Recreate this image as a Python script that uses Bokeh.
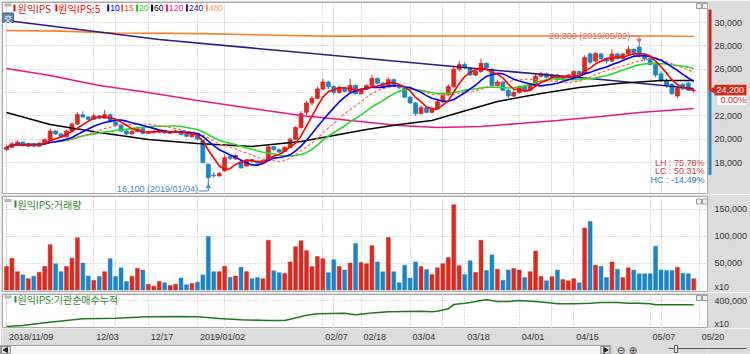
import numpy as np
import pandas as pd
from bokeh.plotting import figure
from bokeh.layouts import column
from bokeh.models import Range1d, FixedTicker, Grid, NumeralTickFormatter
from bokeh.core.properties import value
from bokeh.embed import file_html
from bokeh.resources import INLINE

# ---------------- data ----------------
name = "원익IPS"
tick_idx = [0, 16, 26, 35, 58, 65, 74, 84, 94, 104, 118, 127]
tick_labels = ["2018/11/09", "12/03", "12/17", "2019/01/02", "02/07", "02/18",
               "03/04", "03/18", "04/01", "04/15", "05/07", "05/20"]
high_date = "2019/05/02"
low_date = "2019/01/04"

opens = [19100, 19300, 19550, 19750, 19400, 19600, 19400, 19650, 19900, 20700,
         20450, 20200, 20700, 21300, 22100, 21900, 21700, 22000, 21800, 22100,
         21500, 21200, 20700, 20450, 20650, 20900, 20500, 20550, 20600, 20750,
         20500, 20600, 20700, 20400, 20200, 20400, 19900, 17850, 16900, 16850,
         17300, 18500, 18300, 18050, 17700, 18250, 18100, 17950, 18200, 19350,
         19100, 18950, 19300, 20000, 21000, 22300, 23100, 23500, 24300, 24900,
         24500, 24000, 24400, 24100, 24600, 23900, 24300, 24600, 25200, 24800,
         24500, 25100, 24600, 24400, 23600, 23100, 22200, 22700, 22300, 22600,
         23200, 23800, 24500, 26000, 26400, 26100, 25500, 25800, 26500, 26000,
         24600, 24900, 24200, 23700, 24000, 24500, 24200, 24600, 25400, 25600,
         25300, 25500, 25100, 25300, 25500, 25800, 25600, 27300, 26700, 27300,
         26900, 26700, 27300, 26900, 27300, 27700, 27900, 27200, 26900, 26400,
         25600, 25000, 24700, 23700, 24700, 24800, 24150]
highs = [19450, 19750, 19900, 19800, 19700, 19650, 19750, 20050, 20900, 20800,
         20500, 20800, 21400, 22300, 22400, 22000, 22200, 22100, 22500, 22200,
         21600, 21250, 20800, 20800, 21100, 20950, 20700, 20750, 20850, 20800,
         20700, 20800, 20750, 20450, 20500, 20450, 19950, 17900, 17150, 17200,
         18700, 18700, 18700, 18300, 18300, 18300, 18150, 18250, 19500, 19450,
         19200, 19400, 20100, 21100, 22400, 23300, 23700, 24500, 25200, 25000,
         24600, 24600, 24500, 25200, 24700, 24400, 24700, 25500, 25300, 24900,
         25300, 25200, 24700, 24500, 23700, 23200, 22900, 22800, 22800, 23400,
         24000, 24700, 26300, 26700, 26600, 26200, 26000, 26900, 26600, 26100,
         25100, 25000, 24300, 24200, 24600, 24600, 24700, 25600, 25800, 25700,
         25600, 25600, 25400, 25600, 25900, 25900, 27200, 27450, 27450, 27400,
         27000, 27700, 27400, 27400, 28000, 27800, 28300, 27400, 27000, 26500,
         25800, 25200, 24800, 24500, 24800, 24900, 24300]
lows = [19000, 19250, 19450, 19350, 19300, 19300, 19350, 19600, 19850, 20350,
        20100, 20150, 20600, 21200, 21800, 21600, 21650, 21700, 21750, 21400,
        21100, 20600, 20350, 20400, 20600, 20400, 20450, 20500, 20550, 20450,
        20450, 20550, 20300, 20150, 20150, 19900, 17900, 16100, 16700, 16800,
        17200, 18200, 18250, 17450, 17650, 18000, 17850, 17900, 18150, 19000,
        18800, 18900, 19250, 19950, 20900, 22100, 22900, 23400, 24200, 24300,
        23800, 23900, 24000, 24000, 23800, 23800, 24200, 24500, 24700, 24400,
        24400, 24500, 24300, 23500, 23000, 22000, 22100, 22200, 22200, 22500,
        23100, 23700, 24400, 25800, 26000, 25400, 25400, 25700, 26000, 24500,
        24500, 24100, 23500, 23600, 23900, 24100, 24100, 24500, 25300, 25200,
        25200, 25000, 25000, 25200, 25400, 25400, 25500, 26400, 26600, 26800,
        26500, 26600, 26800, 26800, 27200, 27200, 27000, 26700, 26300, 25300,
        24900, 24400, 23800, 23500, 24200, 24100, 24000]
closes = [19300, 19600, 19750, 19450, 19600, 19400, 19650, 19950, 20700, 20450,
          20200, 20700, 21300, 22100, 21900, 21700, 22000, 21800, 22100, 21500,
          21200, 20700, 20450, 20650, 20900, 20500, 20600, 20650, 20750, 20550,
          20600, 20700, 20400, 20250, 20400, 20000, 18000, 16700, 16850, 17050,
          18400, 18350, 18600, 17550, 18200, 18100, 17950, 18150, 19350, 19100,
          18900, 19300, 20000, 21000, 22200, 23100, 23500, 24300, 24900, 24500,
          24000, 24400, 24100, 24600, 23900, 24300, 24600, 25200, 24800, 24500,
          25100, 24600, 24400, 23600, 23100, 22200, 22700, 22300, 22600, 23200,
          23800, 24500, 26000, 26400, 26100, 25500, 25800, 26500, 26100, 24600,
          24900, 24200, 23700, 24000, 24500, 24200, 24600, 25400, 25600, 25300,
          25500, 25100, 25300, 25500, 25800, 25550, 27000, 26600, 27350, 26900,
          26700, 27300, 26900, 27300, 27700, 27400, 27200, 26900, 26400, 25500,
          25000, 24600, 23900, 24400, 24300, 24200, 24200]
volume = [43500, 59000, 34000, 28000, 21000, 25600, 33000, 44000, 84000, 48500,
          34000, 43500, 59000, 96700, 50000, 26000, 17600, 25000, 34000, 58000,
          25000, 41000, 15700, 25600, 40000, 37000, 10800, 7000, 15700, 13300,
          8300, 10800, 22000, 9600, 12000, 14500, 28000, 99000, 34000, 34000,
          44000, 23700, 26000, 42000, 34000, 21000, 23000, 20700, 92000, 35500,
          32000, 30600, 52000, 80000, 91000, 73000, 43500, 62000, 58000, 32000,
          56000, 43500, 37000, 50000, 86000, 51000, 48500, 82000, 52000, 33700,
          97000, 33700, 13300, 46000, 22000, 52000, 43500, 38000, 28700, 41000,
          48500, 60000, 158000, 44800, 28700, 54000, 32400, 92000, 36000, 65000,
          38600, 18000, 37000, 40000, 37000, 23000, 34000, 72000, 25000, 17000,
          25000, 37000, 19400, 17000, 20700, 13300, 115000, 127000, 46000, 43500,
          23000, 52000, 38600, 23000, 41000, 37000, 30000, 30000, 30000, 81000,
          37000, 36000, 36000, 42000, 31000, 30000, 21000]

# long moving averages (index, value)
ma60_idx = [0, 8, 17, 26, 35, 45, 54, 59, 66, 72, 78, 83, 90, 98, 105, 112, 120, 126]
ma60_val = [22290, 21260, 20570, 19970, 19630, 19370, 19800, 20230, 20830, 21260,
            21600, 22290, 23230, 23910, 24430, 24770, 25030, 25030]
ma120_idx = [0, 8, 17, 26, 35, 45, 54, 63, 72, 79, 87, 94, 101, 109, 116, 126]
ma120_val = [26060, 25460, 24600, 24000, 23310, 22630, 22030, 21600, 21170, 21000,
             21090, 21340, 21600, 21940, 22290, 22630]
ma240_idx = [0, 28, 54, 72, 90, 109, 126]
ma240_val = [30170, 28540, 27430, 26660, 25890, 25110, 24340]
ma480_idx = [0, 10, 20, 36, 52, 58, 90, 121, 126]
ma480_val = [29310, 29260, 29100, 29050, 28890, 28830, 28840, 28840, 28800]

# institutional cumulative net buying (index, value)
cum_idx = [0, 3, 7, 11, 14, 20, 26, 32, 35, 39, 43, 48, 51, 52, 55, 57, 62, 64, 67, 70,
           76, 78, 79, 81, 82, 84, 85, 87, 88, 90, 92, 94, 97, 99, 101, 104, 107, 109,
           112, 114, 116, 118, 119, 126]
cum_val = [140000, 150000, 177000, 200000, 217000, 223000, 237000, 240000, 237000, 220000,
           207000, 200000, 200000, 213000, 253000, 267000, 273000, 257000, 275000, 287000,
           293000, 287000, 293000, 317000, 360000, 373000, 380000, 400000, 407000, 390000,
           390000, 400000, 390000, 380000, 367000, 367000, 373000, 380000, 380000, 373000,
           373000, 367000, 357000, 357000]

# ---------------- layout helpers ----------------
W = 750
FL, FR = 2, 41
S = 5.47          # px per trading day
X0 = 6            # px of first candle
x_start = -(X0 - FL) / S
x_end = x_start + (W - FL - FR) / S
xr = Range1d(x_start, x_end)


def xp(px):
    return x_start + (px - FL) / S


RED = "#dc2a20"
BLUE = "#1985c8"
BG = "#dcdcdc"
GRID = "#bcbcbc"
KF = value("Noto Sans CJK KR")
NFv = value("Liberation Sans")
NF = "Liberation Sans"


def make(h, top, bottom, yr, yticks, ygrid, overrides=None):
    p = figure(width=W, height=h, x_range=xr, y_range=yr, output_backend="svg",
               toolbar_location=None, x_axis_location=None, y_axis_location="right",
               min_border_left=FL, min_border_right=FR, min_border_top=top,
               min_border_bottom=bottom, border_fill_color=BG,
               background_fill_color="white", outline_line_color="#a8a8a8")
    ax = p.yaxis[0]
    ax.ticker = FixedTicker(ticks=yticks)
    ax.formatter = NumeralTickFormatter(format="0,0")
    if overrides:
        ax.major_label_overrides = overrides
    ax.axis_line_color = None
    ax.major_tick_line_color = None
    ax.minor_tick_line_color = None
    ax.major_tick_out = 0
    ax.major_label_standoff = 7
    ax.major_label_text_font = NF
    ax.major_label_text_font_size = "9px"
    ax.major_label_text_color = "#333333"
    p.ygrid.ticker = FixedTicker(ticks=ygrid)
    p.ygrid.grid_line_color = GRID
    p.ygrid.grid_line_dash = "1 2"
    p.add_layout(Grid(dimension=0, ticker=FixedTicker(ticks=tick_idx),
                      grid_line_color=GRID, grid_line_dash="1 2"))
    return p


def panel_icons(p, yconv, py_icon):
    p.quad(left=xp(4), right=xp(11), top=yconv(py_icon), bottom=yconv(py_icon + 3),
           fill_color="#b4b4b4", line_color=None)
    for bx in (698, 704):
        p.quad(left=xp(bx), right=xp(bx + 5), top=yconv(py_icon), bottom=yconv(py_icon + 5),
               fill_color="#eeeeee", line_color="#9a9a9a", line_width=1)


idx = np.arange(len(closes))
o = np.array(opens, float)
c = np.array(closes, float)
hi = np.array(highs, float)
lo = np.array(lows, float)
colors = [RED if cc >= oo else BLUE for oo, cc in zip(o, c)]

# ---------------- price panel ----------------
PPU = 12000 / 140.0


def pv(py):
    return 30000 - (py - 22) * PPU


p1 = make(194, 2, 1, Range1d(pv(193), pv(2)),
          [18000, 20000, 22000, 26000, 28000, 30000],
          [18000, 20000, 22000, 24000, 26000, 28000, 30000])

p1.segment(idx, hi, idx, lo, color=colors, line_width=1)
p1.vbar(x=idx, width=0.72, top=np.maximum(o, c), bottom=np.minimum(o, c),
        fill_color=colors, line_color=colors, line_width=0.8)

cs = pd.Series(c)
ma = {n: cs.rolling(n, min_periods=1).mean().values for n in (5, 10, 15, 20)}

p1.line(ma480_idx, ma480_val, color="#ff7f27", line_width=1.6)
p1.line(ma240_idx, ma240_val, color="#2e1a87", line_width=1.6)
p1.line(ma120_idx, ma120_val, color="#f0148c", line_width=1.6)
p1.line(ma60_idx, ma60_val, color="#000000", line_width=1.6)
p1.line(idx, ma[20], color="#22dd22", line_width=1.6)
p1.line(idx, ma[15], color="#ff6a50", line_width=1.2, line_dash="3 2")
p1.line(idx, ma[10], color="#0000ff", line_width=1.6)
p1.line(idx, ma[5], color="#ff0000", line_width=1.6)

# legend row
leg = [(name, "#c81414", 13, 17, KF, "10px"), (name + ":5", "#ff0000", 55, 58, KF, "10px"),
       ("10", "#0000ff", 107, 110, NFv, "8.5px"), ("15", "#ff5a28", 121, 124, NFv, "8.5px"),
       ("20", "#10d010", 136, 139, NFv, "8.5px"), ("60", "#000000", 151, 154, NFv, "8.5px"),
       ("120", "#ff1493", 166, 169, NFv, "8.5px"), ("240", "#2e1a87", 186, 189, NFv, "8.5px"),
       ("480", "#ff9a6a", 206, 209, NFv, "8.5px")]
for txt, col, mx, tx, fnt, fs in leg:
    p1.quad(left=xp(mx), right=xp(mx + 2), top=pv(4), bottom=pv(11), fill_color=col, line_color=None)
    p1.text(x=[xp(tx)], y=[pv(7.5)], text=[txt], text_font=fnt, text_font_size=fs,
            text_color=col, text_baseline="middle", text_align="left")
panel_icons(p1, pv, 3)
p1.quad(left=xp(2), right=xp(13), top=pv(12.5), bottom=pv(22), fill_color="#5d83ad", line_color="#3e628a")
p1.text(x=[xp(7.5)], y=[pv(17.5)], text=["交"], text_font=KF, text_font_size="8px",
        text_color="white", text_baseline="middle", text_align="center")

# high / low annotations
hi_i = int(np.argmax(hi))
lo_i = int(np.argmin(lo))
HCOL = "#e06a6a"
LCOL = "#3c8dc5"
y_ht = hi[hi_i] + 6.3 * PPU
p1.text(x=[hi_i - 9.0 / S], y=[y_ht], text=[f"{int(hi[hi_i]):,} ({high_date})"],
        text_font=NFv, text_font_size="9px", text_color=HCOL, text_baseline="middle", text_align="right")
p1.line([hi_i - 8.0 / S, hi_i, hi_i], [y_ht, y_ht, hi[hi_i] + 1.5 * PPU], color=HCOL, line_width=1)
p1.scatter([hi_i], [hi[hi_i] + 2.0 * PPU], marker="inverted_triangle", size=4, color=HCOL)
y_lt = lo[lo_i] - 4.6 * PPU
y_ll = lo[lo_i] - 6.3 * PPU
p1.text(x=[lo_i - 10.4 / S], y=[y_lt], text=[f"{int(lo[lo_i]):,} ({low_date})"],
        text_font=NFv, text_font_size="9px", text_color=LCOL, text_baseline="middle", text_align="right")
p1.line([lo_i - 9.5 / S, lo_i, lo_i], [y_ll, y_ll, lo[lo_i] - 1.5 * PPU], color=LCOL, line_width=1)
p1.scatter([lo_i], [lo[lo_i] - 2.0 * PPU], marker="triangle", size=4, color=LCOL)

# LH / LC / HC
H, L, C = hi.max(), lo.min(), c[-1]
stats = [(f"LH : {(H - L) / L * 100:.2f}%", "#d03c3c", 162),
         (f"LC : {(C - L) / L * 100:.2f}%", "#d03c3c", 170.5),
         (f"HC : {(C - H) / H * 100:.2f}%", "#2a80c0", 179)]
for txt, col, py in stats:
    p1.text(x=[xp(706)], y=[pv(py)], text=[txt], text_font=NFv, text_font_size="9px",
            text_color=col, text_baseline="middle", text_align="right")

# current price marker + price-limit bar in the right margin (overlay level, unclipped)
prev = c[-2]
chg = (c[-1] - prev) / prev * 100
up_lim = min(prev * 1.3, pv(9))
dn_lim = prev * 0.7
p1.quad(left=xp(710), right=xp(713), top=up_lim, bottom=c[-1], fill_color="#c8281e",
        line_color=None, level="overlay")
p1.quad(left=xp(710), right=xp(713), top=c[-1], bottom=dn_lim, fill_color="#2a86c8",
        line_color=None, level="overlay")
p1.quad(left=xp(716), right=xp(748), top=c[-1] + 5.3 * PPU, bottom=c[-1] - 5.3 * PPU,
        fill_color="#d52b1e", line_color=None, level="overlay")
p1.text(x=[xp(718)], y=[c[-1]], text=[f"{int(c[-1]):,}"], text_font=NFv, text_font_size="9px",
        text_color="white", text_baseline="middle", text_align="left", level="overlay")
p1.quad(left=xp(719), right=xp(747), top=c[-1] - 5.6 * PPU, bottom=c[-1] - 15 * PPU,
        fill_color="white", line_color=None, level="overlay")
p1.text(x=[xp(722)], y=[c[-1] - 10.3 * PPU], text=[f"{chg:.2f}%"], text_font=NFv,
        text_font_size="9px", text_color="#d52b1e", text_baseline="middle", text_align="left",
        level="overlay")
p1.scatter([xp(714.5)], [c[-1]], marker="triangle", angle=np.pi / 2, size=6, color="#d52b1e",
           level="overlay")

# ---------------- volume panel ----------------
VPU = 50000 / 27.0


def vv(py):
    return (289.5 - py) * VPU


p2 = make(98, 2, 1, Range1d(vv(291), vv(196)), [5000, 50000, 100000, 150000],
          [50000, 100000, 150000], {5000: "x10"})
p2.vbar(x=idx, width=0.72, top=volume, bottom=0, fill_color=colors, line_color=colors, line_width=0.5)
p2.quad(left=xp(14), right=xp(16), top=vv(200), bottom=vv(207), fill_color="#2f8f2f", line_color=None)
p2.text(x=[xp(17)], y=[vv(203.5)], text=[name + ":거래량"], text_font=KF, text_font_size="10px",
        text_color="#2f8f2f", text_baseline="middle", text_align="left")
panel_icons(p2, vv, 198.5)

# ---------------- cumulative panel ----------------


def cv(py):
    return 400000 - (py - 300) * 10000


p3 = make(36, 2, 0, Range1d(cv(328), cv(294)), [170000, 400000], [400000], {170000: "x10"})
p3.line(cum_idx, cum_val, color="#1d7a1d", line_width=1.6)
p3.quad(left=xp(14), right=xp(16), top=cv(295.5), bottom=cv(302), fill_color="#2f8f2f", line_color=None)
p3.text(x=[xp(17)], y=[cv(298.5)], text=[name + ":기관순매수누적"], text_font=KF, text_font_size="10px",
        text_color="#2f8f2f", text_baseline="middle", text_align="left")
panel_icons(p3, cv, 295)

# ---------------- date axis strip + scroll bar (same frame as the panels) ----------------
p4 = figure(width=W, height=26, x_range=xr, y_range=Range1d(0, 26),
            output_backend="svg", toolbar_location=None, x_axis_location=None,
            y_axis_location=None, min_border_left=FL, min_border_right=FR, min_border_top=0,
            min_border_bottom=0, border_fill_color=BG, background_fill_color=BG,
            outline_line_color=None)
p4.xgrid.visible = False
p4.ygrid.visible = False


def y4(py):
    return 354 - py


p4.text(x=[t + 2.5 / S for t in tick_idx], y=[y4(336.5)] * len(tick_idx), text=tick_labels,
        text_font=NFv, text_font_size="9px", text_color="#333333", text_baseline="middle",
        text_align="left", level="overlay")
p4.quad(left=xp(0), right=xp(612), top=y4(345), bottom=y4(354), fill_color="#f7f7f7",
        line_color="#9c9c9c", line_width=1, level="overlay")
for bx in (1, 602):
    p4.quad(left=xp(bx), right=xp(bx + 9), top=y4(346), bottom=y4(353), fill_color="#e6e6e6",
            line_color="#8c8c8c", line_width=1, level="overlay")
p4.scatter([xp(5.5)], [y4(349.5)], marker="triangle", angle=np.pi / 2, size=5, color="#222222",
           level="overlay")
p4.scatter([xp(606.5)], [y4(349.5)], marker="triangle", angle=-np.pi / 2, size=5, color="#222222",
           level="overlay")
for k, sym in enumerate(["⊖", "⊕"]):
    p4.text(x=[xp(618 + k * 12)], y=[y4(349.5)], text=[sym], text_font=value("DejaVu Sans"),
            text_font_size="10px", text_color="#333333", text_baseline="middle", text_align="left",
            level="overlay")
p4.line([xp(670), xp(748)], [y4(348), y4(348)], color="#555555", line_width=1, level="overlay")
p4.quad(left=xp(676), right=xp(679), top=y4(345), bottom=y4(352), fill_color="#eeeeee",
        line_color="#555555", line_width=1, level="overlay")

layout = column(p1, p2, p3, p4, spacing=0)
open("out.html", "w").write(file_html(layout, INLINE))
